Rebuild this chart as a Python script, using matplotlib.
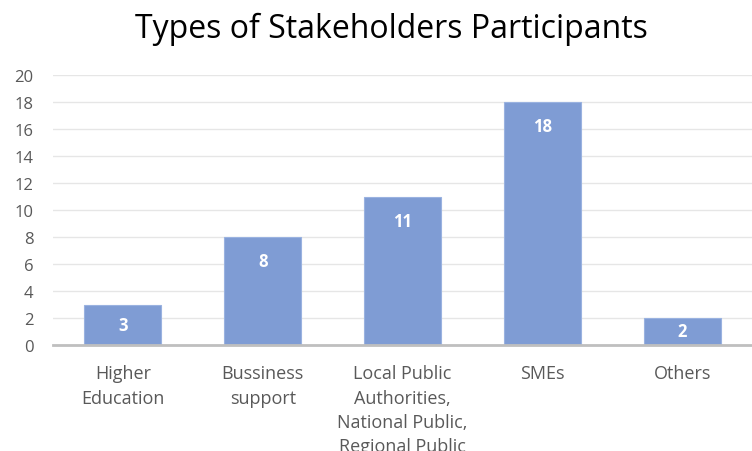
import matplotlib.pyplot as plt

plt.rcParams["font.family"] = ["Open Sans", "DejaVu Sans"]

categories = ["Higher\nEducation", "Bussiness\nsupport",
              "Local Public\nAuthorities,\nNational Public,\nRegional Public",
              "SMEs", "Others"]
counts = [3, 8, 11, 18, 2]
y_ticks = list(range(0, 21, 2))

fig = plt.figure(figsize=(7.52, 4.52), dpi=100)
ax = fig.add_axes([53 / 752, 106 / 452, 699 / 752, 270 / 452])

x = range(len(categories))
bars = ax.bar(x, counts, width=0.55, color="#7f9cd4", edgecolor="#9ab2e0",
              linewidth=0.8, zorder=3)

# labels sit near the top, but stay mid-bar on short bars
for b, v in zip(bars, counts):
    ax.text(b.get_x() + b.get_width() / 2, max(v - 1.8, v / 2), str(v),
            ha="center", va="center", color="white", fontsize=12,
            fontweight="bold", zorder=4)

ax.set_xlim(-0.5, len(categories) - 0.5)
ax.set_ylim(0, 20)
ax.set_yticks(y_ticks)
ax.set_xticks(list(x))
ax.set_xticklabels(categories, linespacing=1.45)
ax.tick_params(axis="x", length=0, pad=14, labelsize=13, colors="#595959")
ax.tick_params(axis="y", length=0, pad=14, labelsize=12, colors="#595959")
ax.yaxis.grid(True, color="#e6e6e6", linewidth=1, zorder=0)

for side in ["top", "right", "left"]:
    ax.spines[side].set_visible(False)
ax.spines["bottom"].set_color("#bfbfbf")
ax.spines["bottom"].set_linewidth(2)
ax.spines["bottom"].set_zorder(5)

fig.text(0.521, 0.934, "Types of Stakeholders Participants", ha="center",
         va="center", fontsize=23, color="black")

fig.savefig("out.png", dpi=100)
